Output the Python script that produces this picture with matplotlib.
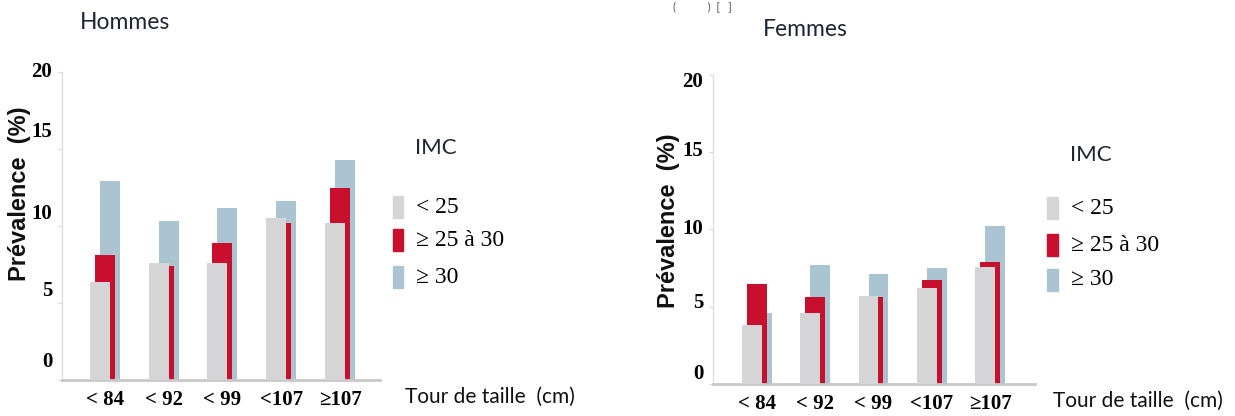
import matplotlib

matplotlib.use("Agg")
import matplotlib.pyplot as plt
import numpy as np

# waist circumference classes (cm)
categories = ["< 84", "< 92", "< 99", "<107", "≥107"]
yticks = [0, 5, 10, 15, 20]
legend_labels = ["< 25", "≥ 25 à 30", "≥ 30"]

# prevalence (%) by BMI class
hommes_lt25 = [6.4, 7.6, 7.6, 10.5, 10.2]
hommes_25_30 = [8.1, 7.4, 8.9, 10.2, 12.5]
hommes_ge30 = [12.9, 10.3, 11.2, 11.6, 14.3]

femmes_lt25 = [3.8, 4.6, 5.7, 6.2, 7.6]
femmes_25_30 = [6.5, 5.6, 5.6, 6.7, 7.9]
femmes_ge30 = [4.6, 7.7, 7.1, 7.5, 10.2]

GREY = "#d5d5d7"
RED = "#c8102e"
BLUE = "#abc4d2"
SERIF = "Liberation Serif"
SANS = "Liberation Sans"
TITLE_FONT = "Lato"


def draw_panel(fig, rect, title, title_xy, lt25, mid, ge30, xlim, label_shift, ylabel_xy, legend_x, legend_y, tour_xy):
    ax = fig.add_axes(rect)
    x = np.arange(len(categories))
    w = 0.34
    d = 0.085
    # back to front: >=30, 25-30, <25
    ax.bar(x + d, ge30, width=w, color=BLUE, zorder=1)
    ax.bar(x, mid, width=w, color=RED, zorder=2)
    ax.bar(x - d, lt25, width=w, color=GREY, zorder=3)

    ax.set_xlim(*xlim)
    ax.set_ylim(0, 20)
    ax.set_yticks(yticks)
    ax.set_yticklabels([])
    # the tick labels sit a little off their ticks in the original
    for v, dy in zip(yticks, label_shift):
        ax.annotate(str(v), xy=(0, v), xycoords=("axes fraction", "data"),
                    xytext=(-7, dy), textcoords="offset points", ha="right", va="center",
                    fontfamily=SERIF, fontweight="bold", fontsize=15, annotation_clip=False)
    ax.set_xticks(x)
    ax.set_xticklabels(categories, fontfamily=SERIF, fontweight="bold", fontsize=15)
    ax.tick_params(axis="x", length=0, pad=7)
    ax.tick_params(axis="y", length=3, color="#d8d8d8")
    for s in ["top", "right"]:
        ax.spines[s].set_visible(False)
    ax.spines["left"].set_color("#dedede")
    ax.spines["left"].set_linewidth(1.0)
    ax.spines["bottom"].set_color("#c8c8c8")
    ax.spines["bottom"].set_linewidth(2.0)

    fig.text(*title_xy, title, fontfamily=TITLE_FONT, fontsize=16.5, color="#1e2633", ha="left", va="center")
    fig.text(*ylabel_xy, "Prévalence  (%)", fontfamily=SANS, fontweight="bold", fontsize=17,
             rotation=90, ha="center", va="center", color="#111111")

    # legend
    fig.text(legend_x + 0.018, legend_y[0], "IMC", fontfamily=TITLE_FONT, fontsize=16,
             color="#1e2633", ha="left", va="center")
    for lbl, col, yy in zip(legend_labels, [GREY, RED, BLUE], legend_y[1:]):
        fig.patches.append(plt.Rectangle((legend_x, yy - 0.027), 0.0085, 0.054, color=col,
                                         transform=fig.transFigure, figure=fig))
        fig.text(legend_x + 0.019, yy, lbl, fontfamily=SERIF, fontsize=17, color="#000000",
                 ha="left", va="center")
    fig.text(*tour_xy, "Tour de taille  (cm)", fontfamily=TITLE_FONT, fontsize=15,
             color="#111111", ha="left", va="center")
    return ax


fig = plt.figure(figsize=(12.35, 4.16), dpi=100)

draw_panel(fig, [0.0502, 0.0865, 0.2575, 0.740], "Hommes", (0.065, 0.945),
           hommes_lt25, hommes_25_30, hommes_ge30,
           (-0.73, 4.68), [13, 9, 9, 12, 0],
           (0.016, 0.535), 0.318, [0.645, 0.502, 0.423, 0.334], (0.328, 0.045))

draw_panel(fig, [0.5773, 0.0769, 0.2607, 0.743], "Femmes", (0.618, 0.928),
           femmes_lt25, femmes_25_30, femmes_ge30,
           (-0.755, 4.77), [7, 3, 0, 1, -5],
           (0.541, 0.47), 0.848, [0.627, 0.5, 0.411, 0.327], (0.853, 0.036))

# caption remnant at the top of the image
fig.text(0.545, 0.998, "(           )  [   ]", fontfamily=TITLE_FONT, fontsize=8, color="#555555",
         ha="left", va="top")

fig.savefig("out.png", dpi=100, facecolor="white")
